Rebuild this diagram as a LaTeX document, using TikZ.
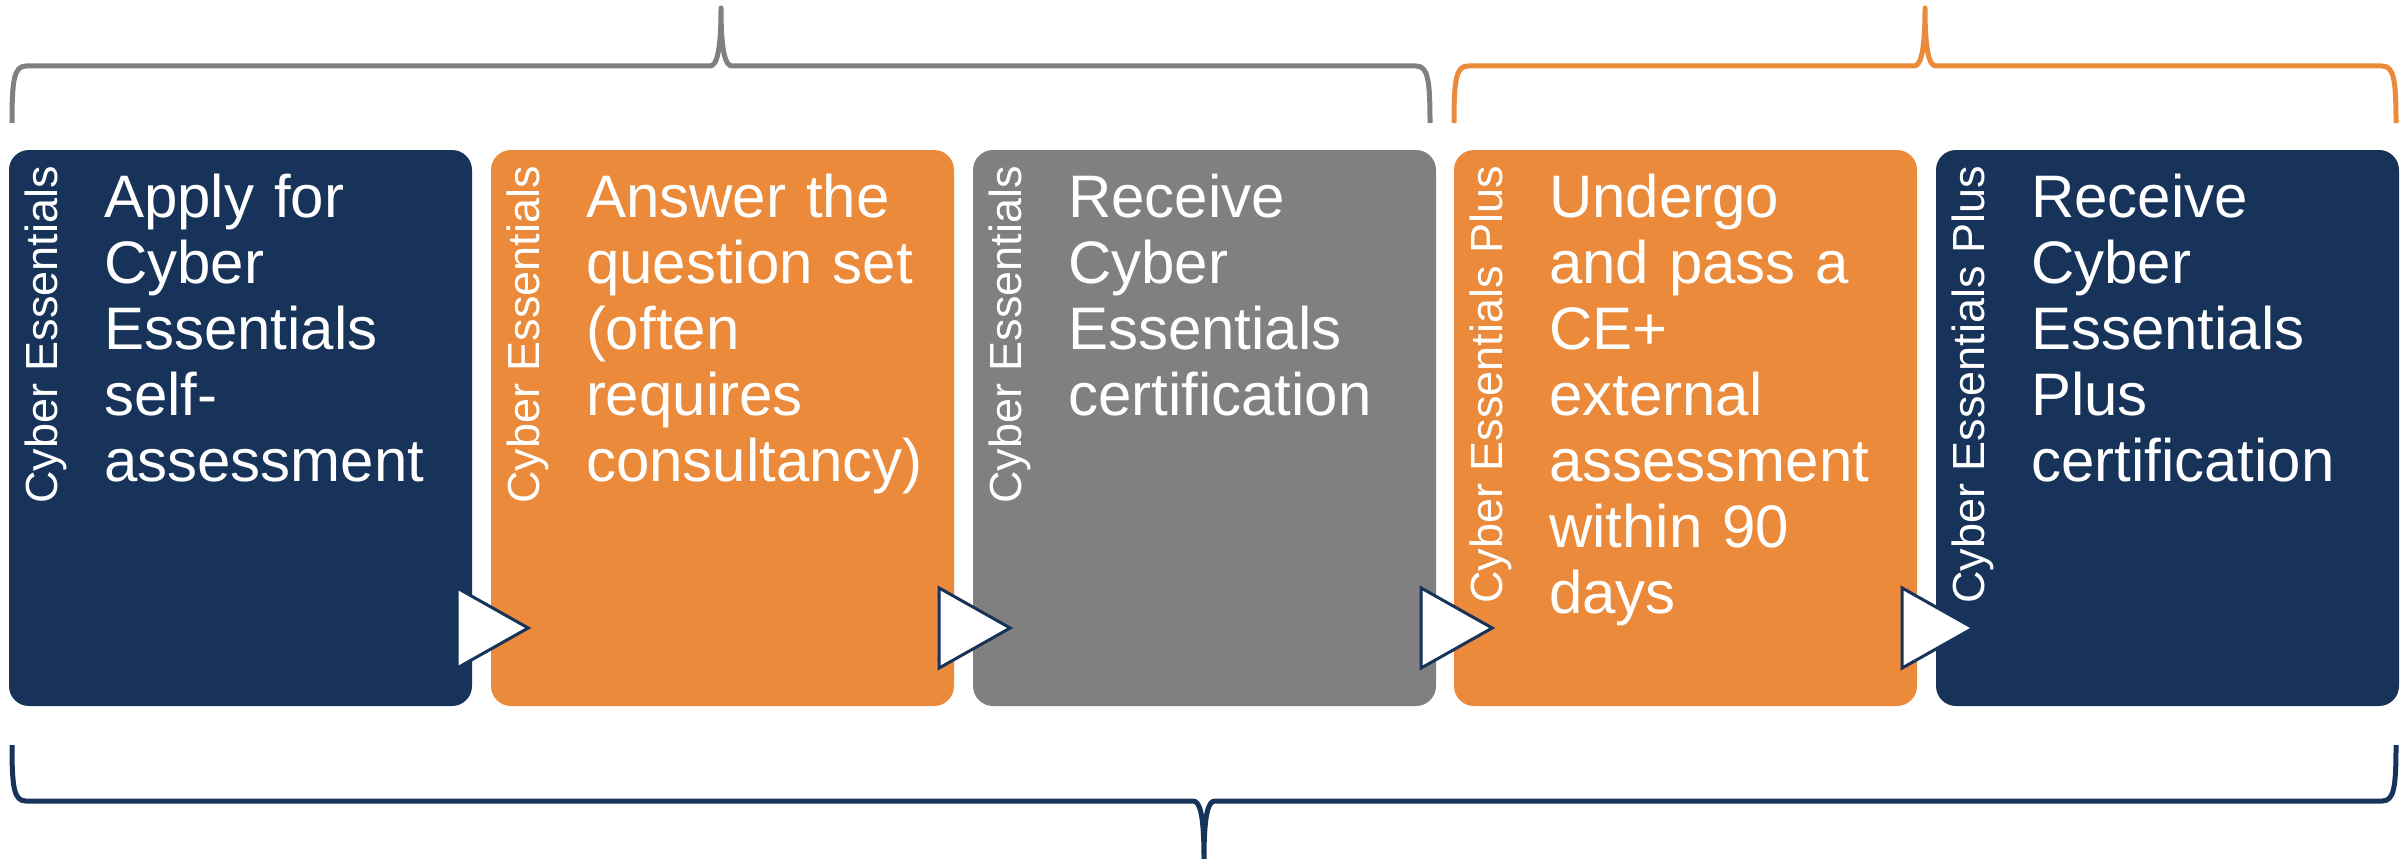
\documentclass[tikz,border=0pt]{standalone}
\usepackage{fontspec}
\setmainfont{Liberation Sans}
\usetikzlibrary{calc}
\definecolor{cenavy}{RGB}{24,51,90}
\definecolor{ceorange}{RGB}{234,138,58}
\definecolor{cegrey}{RGB}{128,128,128}
\tikzset{
	stage/.style={draw=none, rounded corners=20pt, minimum width=463pt, minimum height=556pt, inner sep=0pt},
	stagetext/.style={text=white, text width=365pt, align=left, anchor=base west, inner sep=0pt, font=\fontsize{60}{66}\selectfont},
	sidetext/.style={text=white, rotate=90, anchor=base east, inner sep=0pt, font=\fontsize{45}{54}\selectfont},
	pointer/.style={draw=cenavy, fill=white, line width=3pt, line join=miter},
	bracket/.style={line width=5pt, line join=round}
}
\begin{document}
\begin{tikzpicture}[x=1pt, y=-1pt]
		\useasboundingbox (0,0) rectangle (2407,859);
		% the five stages
		\node[stage, fill=cenavy] (box1) at (240.5,428) {};
		\node[stage, fill=ceorange] (box2) at (722.5,428) {};
		\node[stage, fill=cegrey] (box3) at (1204.5,428) {};
		\node[stage, fill=ceorange] (box4) at (1685.5,428) {};
		\node[stage, fill=cenavy] (box5) at (2167.5,428) {};
		% side labels
		\node[sidetext] (side1) at ($(box1.north west)+(49,16)$) {Cyber Essentials};
		\node[sidetext] (side2) at ($(box2.north west)+(49,16)$) {Cyber Essentials};
		\node[sidetext] (side3) at ($(box3.north west)+(49,16)$) {Cyber Essentials};
		\node[sidetext] (side4) at ($(box4.north west)+(49,16)$) {Cyber Essentials Plus};
		\node[sidetext] (side5) at ($(box5.north west)+(49,16)$) {Cyber Essentials Plus};
		% stage texts
		\node[stagetext] (txt1) at ($(box1.north west)+(95,68)$) {Apply for\\Cyber\\Essentials\\self-\\assessment};
		\node[stagetext] (txt2) at ($(box2.north west)+(95,68)$) {Answer the\\question set\\(often\\requires\\consultancy)};
		\node[stagetext] (txt3) at ($(box3.north west)+(95,68)$) {Receive\\Cyber\\Essentials\\certification};
		\node[stagetext] (txt4) at ($(box4.north west)+(95,68)$) {Undergo\\and pass a\\CE+\\external\\assessment\\within 90\\days};
		\node[stagetext] (txt5) at ($(box5.north west)+(95,68)$) {Receive\\Cyber\\Essentials\\Plus\\certification};
		% pointers
		\draw[pointer] ($(box1.east)+(-15,160)$) -- ($(box1.east)+(56,200)$) -- ($(box1.east)+(-15,240)$) -- cycle;
		\draw[pointer] ($(box2.east)+(-15,160)$) -- ($(box2.east)+(56,200)$) -- ($(box2.east)+(-15,240)$) -- cycle;
		\draw[pointer] ($(box3.east)+(-15,160)$) -- ($(box3.east)+(56,200)$) -- ($(box3.east)+(-15,240)$) -- cycle;
		\draw[pointer] ($(box4.east)+(-15,160)$) -- ($(box4.east)+(56,200)$) -- ($(box4.east)+(-15,240)$) -- cycle;
		% braces
		\draw[bracket, draw=cegrey] (12,123) .. controls (12,80) and (14,66) .. (26,66) -- (710,66)
			.. controls (717,66) and (721,50) .. (721,8) .. controls (721,50) and (725,66) .. (732,66)
			-- (1416,66) .. controls (1428,66) and (1430,80) .. (1430,123);
		\draw[bracket, draw=ceorange] (1454,123) .. controls (1454,80) and (1456,66) .. (1468,66) -- (1914,66)
			.. controls (1921,66) and (1925,50) .. (1925,8) .. controls (1925,50) and (1929,66) .. (1936,66)
			-- (2382,66) .. controls (2394,66) and (2396,80) .. (2396,123);
		\draw[bracket, draw=cenavy] (12,745) .. controls (12,788) and (14,801) .. (26,801) -- (1193,801)
			.. controls (1200,801) and (1204,815) .. (1204,859) .. controls (1204,815) and (1208,801) .. (1215,801)
			-- (2382,801) .. controls (2394,801) and (2396,788) .. (2396,745);
	\end{tikzpicture}
\end{document}
